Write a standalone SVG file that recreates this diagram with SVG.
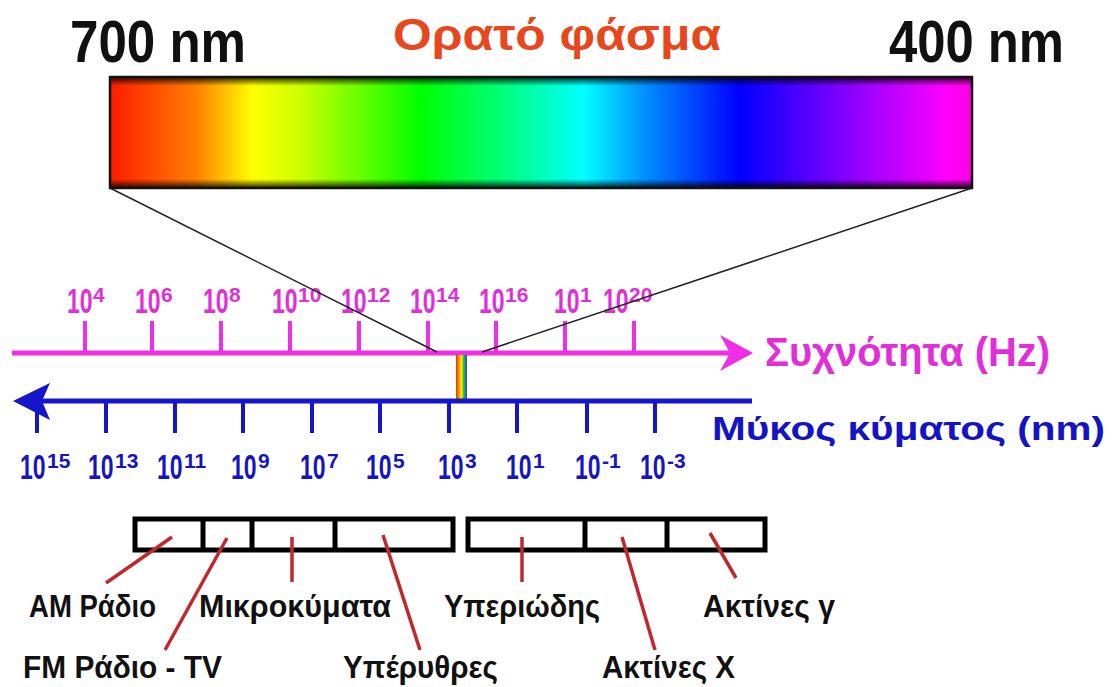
<svg xmlns="http://www.w3.org/2000/svg" width="1119" height="687" viewBox="0 0 1119 687">
<style>
.lbl{font-family:"Liberation Sans",Arial,sans-serif;font-weight:bold}
.mag{fill:#e22ed8}
.blu{fill:#1414c4}
.blk{fill:#111}
.big{font-size:60px}
.num{font-size:23px}
.sup{font-size:21px}
.band{font-size:31px}
.tick-m{stroke:#f02ee6;stroke-width:4}
.tick-b{stroke:#1515cc;stroke-width:4}
.ptr{stroke:#c0282d;stroke-width:3.5;fill:none}
.box{fill:#fff;stroke:#000;stroke-width:5}
</style>
<defs>
<linearGradient id="spec" x1="0" y1="0" x2="1" y2="0">
<stop offset="0" stop-color="#ff1a00"/>
<stop offset="0.1" stop-color="#ff8000"/>
<stop offset="0.165" stop-color="#ffff00"/>
<stop offset="0.22" stop-color="#ccff00"/>
<stop offset="0.36" stop-color="#00ff00"/>
<stop offset="0.46" stop-color="#00ff80"/>
<stop offset="0.55" stop-color="#00ffff"/>
<stop offset="0.62" stop-color="#0090ff"/>
<stop offset="0.73" stop-color="#0000ff"/>
<stop offset="0.85" stop-color="#8000ff"/>
<stop offset="0.97" stop-color="#ff00ff"/>
<stop offset="1" stop-color="#ff00e0"/>
</linearGradient>
<linearGradient id="shade" x1="0" y1="0" x2="0" y2="1">
<stop offset="0" stop-color="#000" stop-opacity="0.85"/>
<stop offset="0.08" stop-color="#000" stop-opacity="0"/>
<stop offset="0.92" stop-color="#000" stop-opacity="0"/>
<stop offset="1" stop-color="#000" stop-opacity="0.85"/>
</linearGradient>
<linearGradient id="mini" x1="0" y1="0" x2="1" y2="0">
<stop offset="0" stop-color="#e03020"/>
<stop offset="0.3" stop-color="#ffa000"/>
<stop offset="0.5" stop-color="#ffee00"/>
<stop offset="0.7" stop-color="#30c030"/>
<stop offset="1" stop-color="#2040ff"/>
</linearGradient>
</defs>
<rect width="1119" height="687" fill="#fff"/>

<g id="visible-spectrum">
<rect x="110" y="77" width="862" height="111" fill="url(#spec)"/>
<rect x="110" y="77" width="862" height="111" fill="url(#shade)" stroke="#111" stroke-width="2.5"/>
<text class="lbl blk big" x="70" y="62" textLength="176" lengthAdjust="spacingAndGlyphs">700 nm</text>
<text class="lbl blk big" x="889" y="62" textLength="175" lengthAdjust="spacingAndGlyphs">400 nm</text>
<text class="lbl" x="393" y="50" font-size="44" fill="#e8461c" textLength="328" lengthAdjust="spacingAndGlyphs">Ορατό φάσμα</text>
</g>

<g id="frequency-axis">
<line x1="12" y1="353" x2="730" y2="353" stroke="#f02ee6" stroke-width="5"/>
<polygon points="753,353 720,335 730,353 720,371" fill="#f02ee6"/>
<line class="tick-m" x1="85" y1="321" x2="85" y2="353"/>
<line class="tick-m" x1="152" y1="321" x2="152" y2="353"/>
<line class="tick-m" x1="221" y1="321" x2="221" y2="353"/>
<line class="tick-m" x1="290" y1="321" x2="290" y2="353"/>
<line class="tick-m" x1="359" y1="321" x2="359" y2="353"/>
<line class="tick-m" x1="428" y1="321" x2="428" y2="353"/>
<line class="tick-m" x1="496" y1="321" x2="496" y2="353"/>
<line class="tick-m" x1="565" y1="321" x2="565" y2="353"/>
<line class="tick-m" x1="634" y1="321" x2="634" y2="353"/>
<g class="lbl mag">
<text class="num" transform="translate(67,313) scale(1,1.5)">10</text><text class="sup" x="93" y="302">4</text>
<text class="num" transform="translate(135,313) scale(1,1.5)">10</text><text class="sup" x="161" y="302">6</text>
<text class="num" transform="translate(203,313) scale(1,1.5)">10</text><text class="sup" x="229" y="302">8</text>
<text class="num" transform="translate(272,313) scale(1,1.5)">10</text><text class="sup" x="298" y="302">10</text>
<text class="num" transform="translate(341,313) scale(1,1.5)">10</text><text class="sup" x="367" y="302">12</text>
<text class="num" transform="translate(410,313) scale(1,1.5)">10</text><text class="sup" x="436" y="302">14</text>
<text class="num" transform="translate(479,313) scale(1,1.5)">10</text><text class="sup" x="505" y="302">16</text>
<text class="num" transform="translate(554,313) scale(1,1.5)">10</text><text class="sup" x="580" y="302">1</text>
<text class="num" transform="translate(603,313) scale(1,1.5)">10</text><text class="sup" x="629" y="302">20</text>
</g>
<text class="lbl mag" x="765" y="366" font-size="40" textLength="285" lengthAdjust="spacingAndGlyphs">Συχνότητα (Hz)</text>
</g>

<g id="visible-band">
<rect x="456" y="355" width="11" height="45" fill="url(#mini)"/>
</g>

<g id="wavelength-axis">
<line x1="42" y1="401" x2="752" y2="401" stroke="#1515cc" stroke-width="5"/>
<polygon points="13,401 50,383 42,401 50,420" fill="#1515cc"/>
<line class="tick-b" x1="37" y1="401" x2="37" y2="433"/>
<line class="tick-b" x1="106" y1="401" x2="106" y2="433"/>
<line class="tick-b" x1="175" y1="401" x2="175" y2="433"/>
<line class="tick-b" x1="243" y1="401" x2="243" y2="433"/>
<line class="tick-b" x1="312" y1="401" x2="312" y2="433"/>
<line class="tick-b" x1="380" y1="401" x2="380" y2="433"/>
<line class="tick-b" x1="449" y1="401" x2="449" y2="433"/>
<line class="tick-b" x1="517" y1="401" x2="517" y2="433"/>
<line class="tick-b" x1="587" y1="401" x2="587" y2="433"/>
<line class="tick-b" x1="655" y1="401" x2="655" y2="433"/>
<g class="lbl blu">
<text class="num" transform="translate(20,479) scale(1,1.55)">10</text><text class="sup" x="47" y="468">15</text>
<text class="num" transform="translate(88,479) scale(1,1.55)">10</text><text class="sup" x="115" y="468">13</text>
<text class="num" transform="translate(157,479) scale(1,1.55)">10</text><text class="sup" x="184" y="468">11</text>
<text class="num" transform="translate(231,479) scale(1,1.55)">10</text><text class="sup" x="258" y="468">9</text>
<text class="num" transform="translate(300,479) scale(1,1.55)">10</text><text class="sup" x="327" y="468">7</text>
<text class="num" transform="translate(366,479) scale(1,1.55)">10</text><text class="sup" x="393" y="468">5</text>
<text class="num" transform="translate(438,479) scale(1,1.55)">10</text><text class="sup" x="465" y="468">3</text>
<text class="num" transform="translate(506,479) scale(1,1.55)">10</text><text class="sup" x="533" y="468">1</text>
<text class="num" transform="translate(575,479) scale(1,1.55)">10</text><text class="sup" x="602" y="468">-1</text>
<text class="num" transform="translate(640,479) scale(1,1.55)">10</text><text class="sup" x="667" y="468">-3</text>
</g>
<text class="lbl blu" x="712" y="440" font-size="33" textLength="393" lengthAdjust="spacingAndGlyphs">Μύκος κύματος (nm)</text>
</g>

<g id="bands-low">
<rect class="box" x="135" y="519" width="318" height="31"/>
<line x1="203" y1="519" x2="203" y2="550" stroke="#000" stroke-width="5"/>
<line x1="252" y1="519" x2="252" y2="550" stroke="#000" stroke-width="5"/>
<line x1="335" y1="519" x2="335" y2="550" stroke="#000" stroke-width="5"/>
</g>
<g id="bands-high">
<rect class="box" x="468" y="519" width="297" height="31"/>
<line x1="585" y1="519" x2="585" y2="550" stroke="#000" stroke-width="5"/>
<line x1="667" y1="519" x2="667" y2="550" stroke="#000" stroke-width="5"/>
</g>

<g id="connectors">
<line x1="110" y1="188" x2="437" y2="352" stroke="#222" stroke-width="1.5"/>
<line x1="972" y1="188" x2="482" y2="352" stroke="#222" stroke-width="1.5"/>
<line class="ptr" x1="172" y1="537" x2="106" y2="583"/>
<line class="ptr" x1="227" y1="538" x2="165" y2="650"/>
<line class="ptr" x1="292" y1="537" x2="292" y2="582"/>
<line class="ptr" x1="383" y1="535" x2="420" y2="650"/>
<line class="ptr" x1="522" y1="537" x2="522" y2="582"/>
<line class="ptr" x1="622" y1="537" x2="655" y2="650"/>
<line class="ptr" x1="710" y1="533" x2="736" y2="578"/>
</g>

<g id="label-am"><text class="lbl blk band" x="29" y="617" textLength="127" lengthAdjust="spacingAndGlyphs">AM Ράδιο</text></g>
<g id="label-fm"><text class="lbl blk band" x="23" y="678" textLength="199" lengthAdjust="spacingAndGlyphs">FM Ράδιο - TV</text></g>
<g id="label-micro"><text class="lbl blk band" x="199" y="617" textLength="192" lengthAdjust="spacingAndGlyphs">Μικροκύματα</text></g>
<g id="label-ir"><text class="lbl blk band" x="343" y="678" textLength="155" lengthAdjust="spacingAndGlyphs">Υπέρυθρες</text></g>
<g id="label-uv"><text class="lbl blk band" x="444" y="617" textLength="156" lengthAdjust="spacingAndGlyphs">Υπεριώδης</text></g>
<g id="label-xray"><text class="lbl blk band" x="602" y="678" textLength="133" lengthAdjust="spacingAndGlyphs">Ακτίνες Χ</text></g>
<g id="label-gamma"><text class="lbl blk band" x="703" y="617" textLength="132" lengthAdjust="spacingAndGlyphs">Ακτίνες γ</text></g>
</svg>
